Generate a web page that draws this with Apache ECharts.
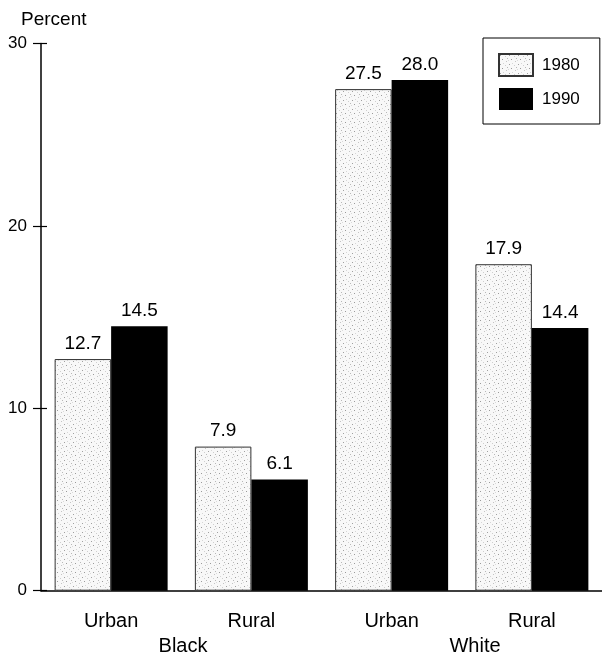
<!DOCTYPE html>
<html>
<head>
<meta charset="utf-8">
<script src="https://cdn.jsdelivr.net/npm/echarts@6/dist/echarts.min.js"></script>
<style>
html,body{margin:0;padding:0;background:#fff;}
#chart{width:602px;height:656px;}
</style>
</head>
<body>
<div id="chart"></div>
<script>
const categories = ['Urban', 'Rural', 'Urban', 'Rural'];
const groupLabels = ['Black', 'White'];
const values1980 = [12.7, 7.9, 27.5, 17.9];
const values1990 = [14.5, 6.1, 28.0, 14.4];
const seriesNames = ['1980', '1990'];
const yTicks = [0, 10, 20, 30];

// deterministic speckle tile for the 1980 bars
function makeSpeckle() {
  const c = document.createElement('canvas');
  c.width = 9; c.height = 9;
  const g = c.getContext('2d');
  g.fillStyle = '#f8f8f8';
  g.fillRect(0, 0, 9, 9);
  const dots = [[1,1,'#a0a0a0'],[6,2,'#cfcfcf'],[3,5,'#9a9a9a'],[7,7,'#c4c4c4'],[0,6,'#dadada'],[4,0,'#d6d6d6'],[8,4,'#b8b8b8']];
  dots.forEach(d => { g.fillStyle = d[2]; g.fillRect(d[0], d[1], 1, 1); });
  return c;
}
const speckle = { image: makeSpeckle(), repeat: 'repeat' };

const FONT = '"Liberation Sans", Arial, sans-serif';
const chart = echarts.init(document.getElementById('chart'), null, { renderer: 'canvas' });

const labelStyle = {
  show: true, position: 'top', distance: 6,
  color: '#000', fontSize: 19, fontFamily: FONT,
  formatter: p => p.value.toFixed(1)
};

chart.setOption({
  animation: false,
  backgroundColor: '#fff',
  grid: { left: 41, right: -7, top: 43.5, bottom: 65.3, containLabel: false },
  legend: {
    orient: 'vertical',
    left: 483, top: 38,
    padding: [15, 20, 14, 15],
    itemWidth: 34, itemHeight: 22, itemGap: 11,
    icon: 'rect',
    borderColor: '#000', borderWidth: 1,
    textStyle: { color: '#000', fontSize: 17, fontFamily: FONT, padding: [0, 0, 0, 4] },
    data: seriesNames
  },
  xAxis: {
    type: 'category',
    data: categories,
    axisLine: { show: true, lineStyle: { color: '#000', width: 1.5 } },
    axisTick: { show: false },
    axisLabel: { color: '#000', fontSize: 20, fontFamily: FONT, margin: 21 }
  },
  yAxis: [{
    type: 'value', min: 0, max: 30, interval: 10,
    axisLine: { show: true, lineStyle: { color: '#000', width: 1.5 } },
    axisTick: { show: true, length: 8, lineStyle: { color: '#000', width: 1.2 } },
    axisLabel: { color: '#000', fontSize: 17, fontFamily: FONT, margin: 14,
      formatter: v => yTicks.includes(v) ? String(v) : '' },
    splitLine: { show: false }
  }, {
    type: 'value', min: 0, max: 30, interval: 10, position: 'left',
    axisLine: { show: false },
    axisTick: { show: true, inside: true, length: 6, lineStyle: { color: '#000', width: 1.2 } },
    axisLabel: { show: false },
    splitLine: { show: false }
  }],
  series: [{
    name: seriesNames[0], type: 'bar', data: values1980,
    barWidth: 56.5, barGap: '0%',
    itemStyle: { color: speckle, borderColor: '#333', borderWidth: 1 },
    label: labelStyle
  }, {
    name: seriesNames[1], type: 'bar', data: values1990,
    barWidth: 56.5, barGap: '0%',
    itemStyle: { color: '#000' },
    label: labelStyle
  }],
  graphic: [
    { type: 'text', left: 21, top: 10, style: { text: 'Percent', fontSize: 19, fontFamily: FONT, fill: '#000' } },
    { type: 'text', x: 183, y: 646, style: { text: groupLabels[0], fontSize: 20, fontFamily: FONT, fill: '#000', align: 'center', verticalAlign: 'middle' } },
    { type: 'text', x: 475, y: 646, style: { text: groupLabels[1], fontSize: 20, fontFamily: FONT, fill: '#000', align: 'center', verticalAlign: 'middle' } }
  ]
});
</script>
</body>
</html>
